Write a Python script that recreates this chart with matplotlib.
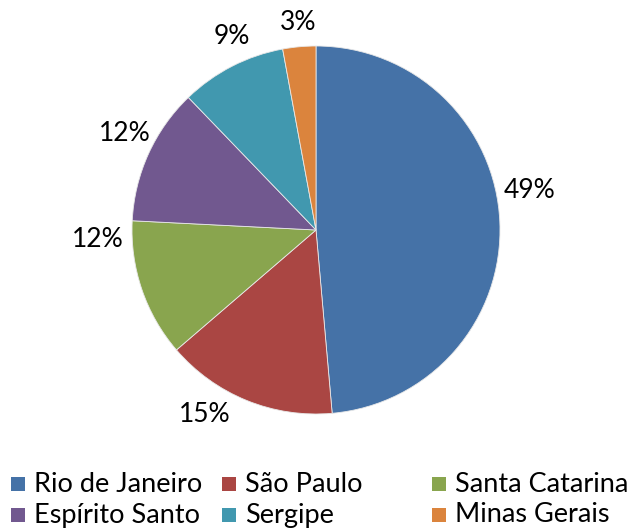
import matplotlib
matplotlib.use("Agg")
import matplotlib.pyplot as plt
from matplotlib.patches import Rectangle

categories = ["Rio de Janeiro", "São Paulo", "Santa Catarina", "Espírito Santo", "Sergipe", "Minas Gerais"]
values = [48.6, 15.1, 12.1, 12.0, 9.3, 2.9]
colors = ["#4572A7", "#AA4643", "#89A54E", "#71588F", "#4198AF", "#DB843D"]

# label positions (best-fit placement, axes units of the unit pie)
label_pos = [(1.163, 0.217), (-0.603, -1.005), (-1.185, -0.054),
             (-1.038, 0.527), (-0.457, 1.049), (-0.098, 1.130)]

plt.rcParams['font.family'] = ['Lato', 'DejaVu Sans']

W, H = 633, 529
fig = plt.figure(figsize=(W / 100, H / 100), dpi=100)
cx, cy, r = 316, 230, 184
ax = fig.add_axes([(cx - r) / W, (H - cy - r) / H, 2 * r / W, 2 * r / H])
wedges, _ = ax.pie(
    values, colors=colors, startangle=90, counterclock=False, radius=1,
    wedgeprops=dict(edgecolor='#e8e8e8', linewidth=0.6))
total = sum(values)
for v, (lx, ly) in zip(values, label_pos):
    ax.text(lx, ly, f"{round(v / total * 100):.0f}%", fontsize=19,
            ha='center', va='center', color='black')
ax.set_xlim(-1, 1)
ax.set_ylim(-1, 1)
ax.set_aspect('equal')
ax.axis('off')

# legend, laid out manually like Excel's
col_x = [11, 222, 432]
row_y = [484, 515]
sq = 14
for i, (name, c) in enumerate(zip(categories, colors)):
    row, col = divmod(i, 3)
    x, y = col_x[col], row_y[row]
    fig.patches.append(Rectangle((x / W, (H - y - sq / 2) / H), sq / W, sq / H,
                                 transform=fig.transFigure, facecolor=c, edgecolor='none'))
    fig.text((x + sq + 9) / W, (H - y) / H, name, fontsize=19.5, va='center', ha='left')

fig.savefig("out.png", dpi=100)
